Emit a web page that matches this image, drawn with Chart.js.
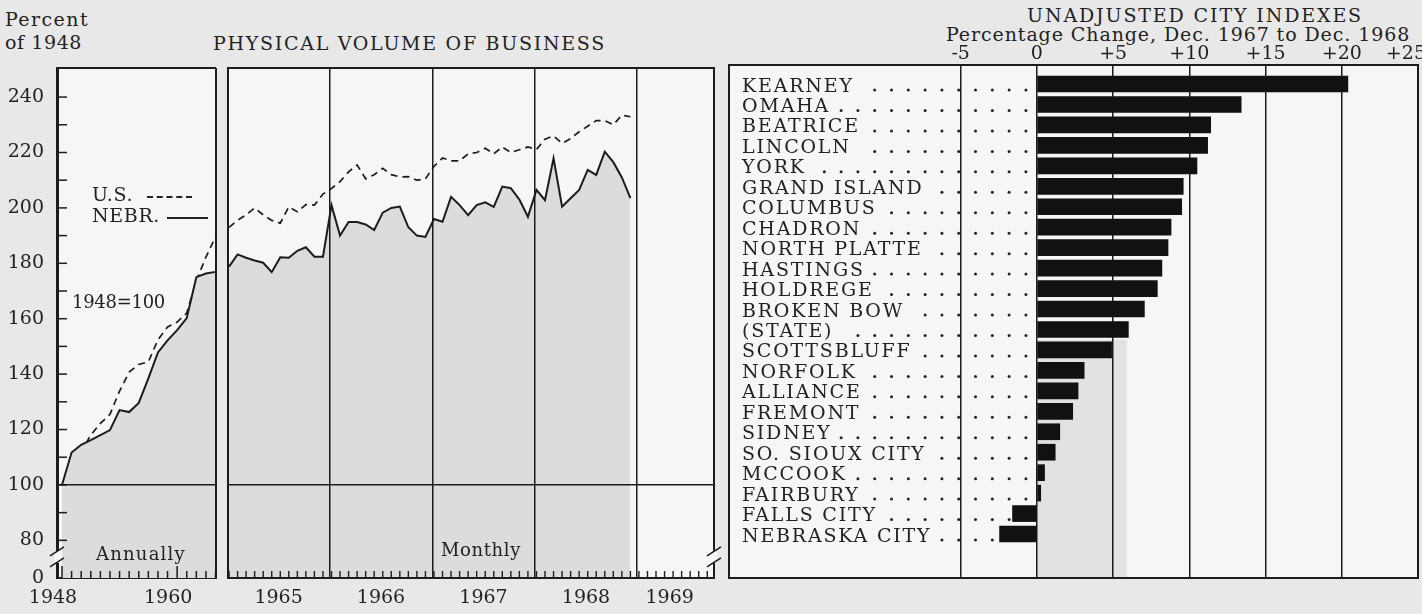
<!DOCTYPE html>
<html>
<head>
<meta charset="utf-8">
<title>Physical Volume of Business / Unadjusted City Indexes</title>
<script src="https://cdn.jsdelivr.net/npm/chart.js@4.4.1/dist/chart.umd.min.js"></script>
<style>
  html, body { margin: 0; padding: 0; width: 1422px; height: 614px; overflow: hidden; background: #e8e8e8; }
  body { position: relative; font-family: "DejaVu Serif", serif; color: #222; }
  canvas { position: absolute; top: 0; }
  .txt { position: absolute; white-space: nowrap; font-size: 19px; line-height: 1; }
  .key { position: absolute; height: 0; }
</style>
</head>
<body>
<div class="txt" data-w="84" style="left:5px;top:10px">Percent</div>
<div class="txt" data-w="77" style="left:5px;top:33px">of 1948</div>
<div class="txt" data-w="393" style="left:213px;top:34px">PHYSICAL VOLUME OF BUSINESS</div>
<div class="txt" data-w="336" style="left:1027px;top:6px">UNADJUSTED CITY INDEXES</div>
<div class="txt" data-w="464" style="left:946px;top:25px">Percentage Change, Dec. 1967 to Dec. 1968</div>

<canvas id="annual" width="240" height="614" style="left:0"></canvas>
<canvas id="monthly" width="540" height="614" style="left:200px"></canvas>
<canvas id="cities" width="720" height="614" style="left:720px"></canvas>

<div class="txt" data-w="41" style="left:92px;top:185px">U.S.</div>
<div class="key" style="left:147px;top:196px;width:45px;border-top:2px dashed #222"></div>
<div class="txt" data-w="68" style="left:92px;top:206px">NEBR.</div>
<div class="key" style="left:167px;top:217px;width:41px;border-top:2px solid #222"></div>
<div class="txt" data-w="93" style="left:72px;top:293px;font-size:18px">1948=100</div>
<div class="txt" data-w="90" style="left:96px;top:545px;font-size:18px">Annually</div>
<div class="txt" data-w="80" style="left:441px;top:541px;font-size:18px">Monthly</div>

<script>
// ---- left panel: index, 1948 = 100 ----
const annualYears = [1948, 1949, 1950, 1951, 1952, 1953, 1954, 1955, 1956, 1957, 1958, 1959, 1960, 1961, 1962, 1963, 1964];
const annualUS    = [100, 106, 112, 118, 122.2, 125.5, 133.9, 140.7, 143.5, 144.4, 152.4, 157, 158.8, 162, 173.8, 182.2, 189.6];
const annualNebr  = [100, 111.7, 114.5, 116.2, 118, 119.8, 127, 126.3, 129.6, 138.5, 147.8, 152.2, 155.9, 160.2, 175, 176.3, 176.9];
const annualTickYears = [1948, 1960];

// monthly, Jan 1965 .. Dec 1968
const monthlyUS = [
  193, 195.5, 197.5, 200, 197.5, 195.5, 194.5, 200.4, 198.6, 201.2, 201, 205,
  207, 209.5, 213, 215.5, 210.5, 212, 214.3, 212, 211.2, 211.3, 210, 210.5,
  215, 218, 217, 217, 219.5, 220, 221.5, 219.5, 222, 220, 221, 222,
  221.1, 224.8, 226, 223.3, 225, 227.5, 229.5, 231.5, 231.5, 230, 233.5, 232.9
];
const monthlyNebr = [
  178.8, 183.2, 182, 181, 180.2, 176.8, 182.2, 182, 184.5, 185.8, 182.4, 182.4,
  201, 190, 194.9, 194.9, 194, 192, 198.3, 200, 200.5, 193, 190, 189.5,
  196, 195, 204, 201, 197.4, 201, 202, 200.4, 207.7, 207.1, 203, 196.8,
  206.5, 202.8, 217.9, 200.4, 203.5, 206.5, 213.7, 211.9, 220.3, 216.5, 211, 203.5
];
const yearLabels = ['1965', '1966', '1967', '1968', '1969'];
const yearLabelAt = [5.8, 17.8, 29.8, 41.8, 51.6];   // month index where each year label sits
const yearLineAt = [11.8, 23.8, 35.8, 47.8];          // year boundaries

const yTickValues = [80, 90, 100, 110, 120, 130, 140, 150, 160, 170, 180, 190, 200, 210, 220, 230, 240];
const yMin = 66.4, yMax = 250.5;   // axis broken below 80, bottom labelled 0

// ---- right panel: city indexes ----
const cities = ['KEARNEY', 'OMAHA', 'BEATRICE', 'LINCOLN', 'YORK', 'GRAND ISLAND', 'COLUMBUS', 'CHADRON',
  'NORTH PLATTE', 'HASTINGS', 'HOLDREGE', 'BROKEN BOW', '(STATE)', 'SCOTTSBLUFF', 'NORFOLK', 'ALLIANCE',
  'FREMONT', 'SIDNEY', 'SO. SIOUX CITY', 'MCCOOK', 'FAIRBURY', 'FALLS CITY', 'NEBRASKA CITY'];
const cityChange = [20.4, 13.4, 11.4, 11.2, 10.5, 9.6, 9.5, 8.8, 8.6, 8.2, 7.9, 7.05, 6.0, 4.9, 3.1, 2.7,
  2.35, 1.5, 1.2, 0.5, 0.25, -1.6, -2.45];
const pctTicks = [-5, 0, 5, 10, 15, 20, 25];

const ink = '#1c1c1c';
const paper = '#f6f6f6';
const shade = '#dcdcdc';
const tickFont = { family: '"DejaVu Serif", serif', size: 19 };
const clear = 'rgba(0,0,0,0)';

Chart.defaults.color = '#222';

// fix an axis to a given size and drop the label padding chart.js asks for
function fixSize(prop, size) {
  return function (scale) {
    scale[prop] = size;
    scale.paddingLeft = 0;
    scale.paddingRight = 0;
    scale.paddingTop = 0;
    scale.paddingBottom = 0;
  };
}

function line(ctx, x1, y1, x2, y2) {
  ctx.beginPath();
  ctx.moveTo(x1, y1);
  ctx.lineTo(x2, y2);
  ctx.stroke();
}

// axis break drawn across a vertical edge
function drawBreak(ctx, x, yc) {
  ctx.fillStyle = paper;
  ctx.fillRect(x - 3, yc - 6, 6, 12);
  ctx.lineWidth = 1.6;
  line(ctx, x - 7, yc - 1, x + 7, yc - 10);
  line(ctx, x - 7, yc + 10, x + 7, yc + 1);
}

const paperPlugin = {
  id: 'paper',
  beforeDraw(chart) {
    const a = chart.chartArea, ctx = chart.ctx;
    ctx.save();
    ctx.fillStyle = paper;
    ctx.fillRect(a.left, a.top, a.right - a.left, a.bottom - a.top);
    ctx.restore();
  }
};

function lineDatasets(xs, nebr, us) {
  return [
    {
      label: 'NEBR.',
      data: xs.map((x, i) => ({ x: x, y: nebr[i] })),
      borderColor: ink,
      borderWidth: 2,
      pointRadius: 0,
      fill: 'start',
      backgroundColor: shade,
      tension: 0
    },
    {
      label: 'U.S.',
      data: xs.map((x, i) => ({ x: x, y: us[i] })),
      borderColor: ink,
      borderWidth: 1.7,
      borderDash: [7, 5],
      pointRadius: 0,
      fill: false,
      tension: 0
    }
  ];
}

// annual part
new Chart(document.getElementById('annual'), {
  type: 'line',
  data: { datasets: lineDatasets(annualYears, annualNebr, annualUS) },
  options: {
    responsive: false,
    animation: false,
    events: [],
    layout: { padding: { left: 0, right: 24, top: 68, bottom: 0 } },
    plugins: { legend: { display: false }, tooltip: { enabled: false } },
    scales: {
      x: {
        type: 'linear',
        min: 1947.48,
        max: 1964.05,
        afterBuildTicks: (s) => { s.ticks = annualTickYears.map(v => ({ value: v })); },
        afterFit: fixSize('height', 36),
        grid: { display: false },
        border: { color: ink, width: 2 },
        ticks: { font: tickFont, padding: 1, labelOffset: -9, maxRotation: 0, callback: (v) => String(v) }
      },
      y: {
        type: 'linear',
        min: yMin,
        max: yMax,
        afterBuildTicks: (s) => { s.ticks = [yMin].concat(yTickValues).map(v => ({ value: v })); },
        afterFit: fixSize('width', 57),
        grid: { z: 1, drawTicks: false, lineWidth: 1.5, color: (c) => (c.tick && c.tick.value === 100 ? ink : clear) },
        border: { z: 1, color: ink, width: 3 },
        ticks: {
          font: tickFont,
          padding: 13,
          callback: (v) => (v === yMin ? '0' : (v % 20 === 0 ? String(v) : ''))
        }
      }
    }
  },
  plugins: [paperPlugin, {
    id: 'annualFrame',
    afterDraw(chart) {
      const a = chart.chartArea, ctx = chart.ctx;
      const xs = chart.scales.x, ys = chart.scales.y;
      ctx.save();
      ctx.strokeStyle = ink;
      ctx.lineWidth = 2;
      line(ctx, a.left, a.top, a.right, a.top);
      line(ctx, a.right, a.top, a.right, a.bottom);
      ctx.lineWidth = 1.5;
      yTickValues.forEach(v => {
        const y = ys.getPixelForValue(v);
        line(ctx, a.left, y, a.left + 10, y);
      });
      annualYears.forEach(yr => {
        const x = xs.getPixelForValue(yr);
        const h = annualTickYears.includes(yr) ? 12 : 7;
        line(ctx, x, a.bottom, x, a.bottom - h);
      });
      drawBreak(ctx, a.left, ys.getPixelForValue(74));
      ctx.restore();
    }
  }]
});

// monthly part
const monthTickValues = yearLabelAt.concat(yearLineAt).sort((p, q) => p - q);
new Chart(document.getElementById('monthly'), {
  type: 'line',
  data: { datasets: lineDatasets(monthlyNebr.map((v, i) => i), monthlyNebr, monthlyUS) },
  options: {
    responsive: false,
    animation: false,
    events: [],
    layout: { padding: { left: 28, right: 26, top: 68, bottom: 0 } },
    plugins: { legend: { display: false }, tooltip: { enabled: false } },
    scales: {
      x: {
        type: 'linear',
        min: -0.12,
        max: 56.79,
        afterBuildTicks: (s) => { s.ticks = monthTickValues.map(v => ({ value: v })); },
        afterFit: fixSize('height', 36),
        grid: {
          z: 1,
          drawTicks: false,
          lineWidth: 1.5,
          color: (c) => (c.tick && yearLineAt.includes(c.tick.value) ? ink : clear)
        },
        border: { z: 1, color: ink, width: 2 },
        ticks: {
          font: tickFont,
          padding: 9,
          maxRotation: 0,
          autoSkip: false,
          callback: (v) => { const k = yearLabelAt.indexOf(v); return k < 0 ? '' : yearLabels[k]; }
        }
      },
      y: {
        type: 'linear',
        min: yMin,
        max: yMax,
        afterBuildTicks: (s) => { s.ticks = [{ value: 100 }]; },
        afterFit: fixSize('width', 0),
        grid: { z: 1, drawTicks: false, lineWidth: 1.5, color: ink },
        border: { display: false },
        ticks: { display: false }
      }
    }
  },
  plugins: [paperPlugin, {
    id: 'monthlyFrame',
    afterDraw(chart) {
      const a = chart.chartArea, ctx = chart.ctx;
      const xs = chart.scales.x, ys = chart.scales.y;
      ctx.save();
      ctx.strokeStyle = ink;
      ctx.lineWidth = 2;
      ctx.strokeRect(a.left, a.top, a.right - a.left, a.bottom - a.top);
      ctx.lineWidth = 1.4;
      for (let m = 0; m <= 56; m++) {
        const x = xs.getPixelForValue(m);
        line(ctx, x, a.bottom, x, a.bottom - 7);
      }
      drawBreak(ctx, a.right, ys.getPixelForValue(74));
      ctx.restore();
    }
  }]
});

// city bars
new Chart(document.getElementById('cities'), {
  type: 'bar',
  data: {
    datasets: [{
      label: 'Percentage Change',
      data: cityChange.map((v, i) => ({ x: v, y: i })),
      backgroundColor: '#111',
      borderWidth: 0,
      barThickness: 16
    }]
  },
  options: {
    indexAxis: 'y',
    responsive: false,
    animation: false,
    events: [],
    layout: { padding: { left: 9, right: 22, top: 45, bottom: 36 } },
    plugins: { legend: { display: false }, tooltip: { enabled: false } },
    scales: {
      x: {
        type: 'linear',
        position: 'top',
        min: -20.2,
        max: 25,
        afterBuildTicks: (s) => { s.ticks = pctTicks.map(v => ({ value: v })); },
        afterFit: fixSize('height', 20),
        grid: { drawTicks: false, lineWidth: 1.5, color: (c) => (c.tick && c.tick.value < 25 ? ink : clear) },
        border: { display: false },
        ticks: {
          font: tickFont,
          padding: 0,
          maxRotation: 0,
          // the last label sits inside the frame edge in the print
          callback: (v) => (v === 25 ? '+25\u00a0\u00a0\u00a0\u00a0' : (v > 0 ? '+' + v : String(v)))
        }
      },
      y: {
        type: 'linear',
        reverse: true,
        offset: false,
        min: -0.93,
        max: 24.15,
        display: false
      }
    }
  },
  plugins: [paperPlugin, {
    id: 'cityBand',
    beforeDraw(chart) {
      // pale band behind the lower bars, as in the print
      const a = chart.chartArea, ctx = chart.ctx;
      const xs = chart.scales.x, ys = chart.scales.y;
      const x0 = xs.getPixelForValue(0), x1 = xs.getPixelForValue(5.9);
      const y0 = ys.getPixelForValue(12.5);
      ctx.save();
      ctx.fillStyle = '#e2e2e2';
      ctx.fillRect(x0, y0, x1 - x0, a.bottom - y0);
      ctx.restore();
    },
    beforeDatasetsDraw(chart) {
      const a = chart.chartArea, ctx = chart.ctx;
      const xs = chart.scales.x, ys = chart.scales.y;
      const dotStart = xs.getPixelForValue(0) - 11;
      ctx.save();
      ctx.font = '19px "DejaVu Serif", serif';
      ctx.letterSpacing = '1.8px';
      ctx.fillStyle = '#222';
      ctx.textBaseline = 'alphabetic';
      cities.forEach((name, i) => {
        const yc = ys.getPixelForValue(i);
        const base = yc + 7.5;
        ctx.fillText(name, a.left + 13, base);
        const end = a.left + 13 + ctx.measureText(name).width;
        for (let x = dotStart; x > end + 8; x -= 16.8) {
          ctx.beginPath();
          ctx.arc(x, base - 1.5, 1.5, 0, Math.PI * 2);
          ctx.fill();
        }
      });
      ctx.restore();
    },
    afterDraw(chart) {
      const a = chart.chartArea, ctx = chart.ctx;
      ctx.save();
      ctx.strokeStyle = ink;
      ctx.lineWidth = 2;
      ctx.strokeRect(a.left, a.top, a.right - a.left, a.bottom - a.top);
      ctx.restore();
    }
  }]
});

// stretch the typewriter-style headings to the widths in the print
document.querySelectorAll('[data-w]').forEach(el => {
  const n = el.textContent.length;
  const w = el.getBoundingClientRect().width;
  el.style.letterSpacing = ((Number(el.dataset.w) - w) / n).toFixed(2) + 'px';
});
</script>
</body>
</html>
